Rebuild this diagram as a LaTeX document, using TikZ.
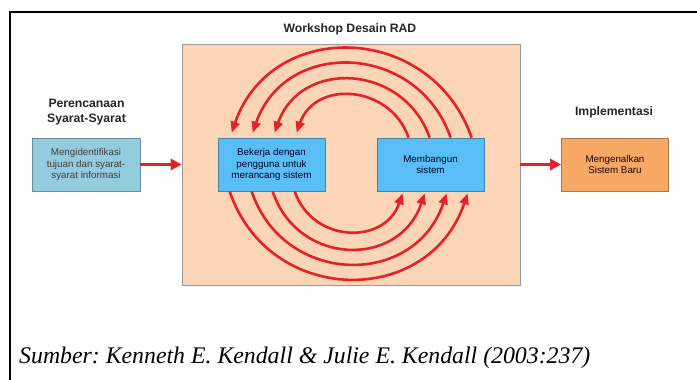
\documentclass[tikz,border=0pt]{standalone}
\usepackage{fontspec}
\setmainfont{Liberation Serif}
\newfontfamily\arialf{Liberation Sans}
\usetikzlibrary{arrows.meta,calc,shadows}
\definecolor{peach}{HTML}{FBD5B5}
\definecolor{lblue}{HTML}{92CCDD}
\definecolor{sblue}{HTML}{59BEF5}
\definecolor{orng}{HTML}{F6A865}
\definecolor{arrred}{HTML}{E3222A}
\tikzset{
  procbox/.style={draw=#1!70!black, line width=0.7pt, minimum width=107pt, minimum height=53pt,
    align=center, font=\arialf\fontsize{9.8}{11.6}\selectfont, inner sep=1pt,
    drop shadow={opacity=0.2, shadow xshift=0.8pt, shadow yshift=-0.8pt}},
  phaselabel/.style={font=\arialf\bfseries\fontsize{12.2}{15}\selectfont, align=center, text=black!85},
  flowarrow/.style={draw=arrred, line width=3pt, -{Triangle[length=11pt,width=11pt]}},
  looparrow/.style={draw=arrred, line width=2.6pt, -{Triangle[length=11pt,width=9pt]}}
}
\begin{document}
\frenchspacing
\begin{tikzpicture}[x=1pt,y=1pt]
\useasboundingbox (0,0) rectangle (697,380);
\fill[white] (0,0) rectangle (697,380);
% outer frame
\draw[line width=2pt] (10,0) -- (10,368) -- (697,368);
% workshop area
\node[draw=black!40, fill=peach, line width=0.6pt, minimum width=338pt, minimum height=241pt, inner sep=0pt] (ws) at (351,215.5) {};
\node[phaselabel] (wstitle) at (350,351) {Workshop Desain RAD};
\node[phaselabel] (plabel) at (86.5,268) {Perencanaan\\Syarat-Syarat};
\node[phaselabel] (ilabel) at (614,268) {Implementasi};
% boxes
\node[procbox=lblue, fill=lblue, text=black!75, minimum width=108pt] (req) at (86,215.5) {Mengidentifikasi\\tujuan dan syarat-\\syarat informasi};
\node[procbox=sblue, fill=sblue, text=black!70!blue!60!black] (bek) at (271.5,215.5) {Bekerja dengan\\pengguna untuk\\merancang sistem};
\node[procbox=sblue, fill=sblue, text=black!70!blue!60!black] (mem) at (430.5,215.5) {Membangun\\sistem};
\node[procbox=orng, fill=orng, text=black!70!red!50!black] (impl) at (615,215.5) {Mengenalkan\\Sistem Baru};
% flow arrows
\draw[flowarrow] (req.east) -- (ws.west);
\draw[flowarrow] (ws.east) -- (impl.west);
% top loop arcs: Membangun -> Bekerja
\draw[looparrow] ($(mem.north west)+(95,0)$) .. controls +(-40,115) and +(40,115) .. ($(bek.north west)+(14,5)$);
\draw[looparrow] ($(mem.north west)+(74,0)$) .. controls +(-33,95) and +(33,95) .. ($(bek.north west)+(35,5)$);
\draw[looparrow] ($(mem.north west)+(53,0)$) .. controls +(-26,74) and +(26,74) .. ($(bek.north west)+(57,5)$);
\draw[looparrow] ($(mem.north west)+(32,0)$) .. controls +(-18.5,53) and +(18.5,53) .. ($(bek.north west)+(79,5)$);
% bottom loop arcs: Bekerja -> Membangun
\draw[looparrow] ($(bek.south west)+(12,0)$) .. controls +(39,-115) and +(-39,-115) .. ($(mem.south west)+(91,-2)$);
\draw[looparrow] ($(bek.south west)+(34,0)$) .. controls +(32,-95) and +(-32,-95) .. ($(mem.south west)+(70,-2)$);
\draw[looparrow] ($(bek.south west)+(55,0)$) .. controls +(25,-75) and +(-25,-75) .. ($(mem.south west)+(48,-2)$);
\draw[looparrow] ($(bek.south west)+(77,0)$) .. controls +(18,-52) and +(-18,-52) .. ($(mem.south west)+(26,-2)$);
% caption
\node[anchor=base west, inner sep=0pt, font=\itshape\fontsize{23.8}{27}\selectfont] (cap) at (19,16) {Sumber: Kenneth E. Kendall \& Julie E. Kendall (2003:237)};
\end{tikzpicture}
\end{document}
